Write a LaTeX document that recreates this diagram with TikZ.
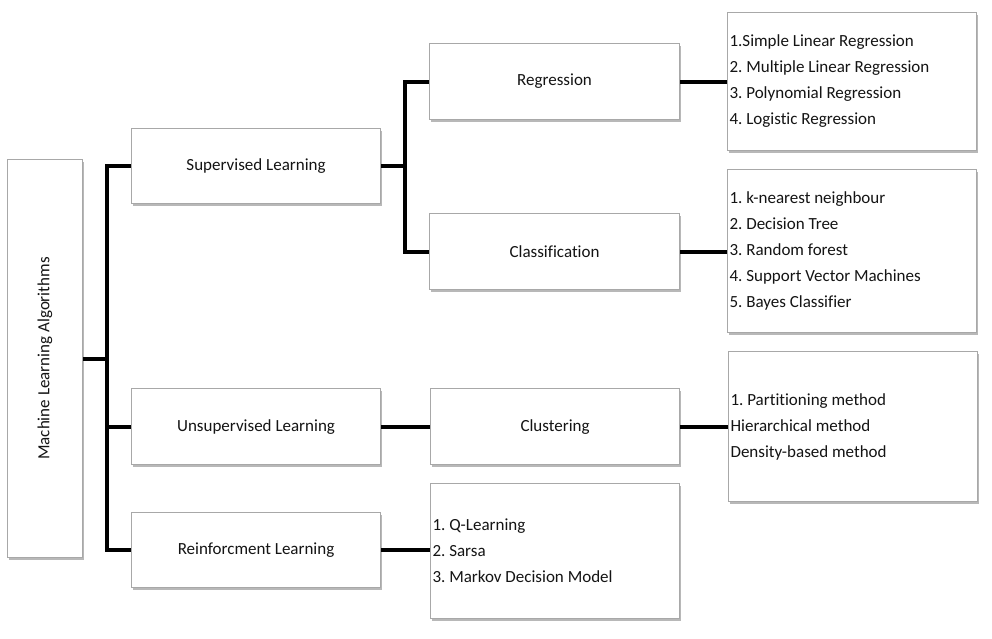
\documentclass[tikz,border=0pt]{standalone}
\usepackage{fontspec}
\setmainfont{Carlito}[Ligatures=NoCommon]
\frenchspacing
\usetikzlibrary{shadows}
\definecolor{boxline}{HTML}{A8A8A8}
\definecolor{txt}{HTML}{141414}
\tikzset{
  box/.style={draw=boxline, line width=1.1pt, fill=white, rectangle, inner sep=0pt,
    anchor=north west, text=txt, font=\fontsize{17}{26}\selectfont,
    drop shadow={shadow xshift=1.2pt, shadow yshift=-2pt, fill=black, opacity=0.28}},
  listbox/.style={box, align=flush left, inner xsep=2pt},
  conn/.style={line width=4pt, black, line join=miter},
}
\begin{document}
\begin{tikzpicture}[x=1pt,y=-1pt]
\useasboundingbox (0,0) rectangle (992,638);
% boxes
\node[box, minimum width=75pt, minimum height=398pt] (root) at (7,159) {};
\node[rotate=90, text=txt, font=\fontsize{17}{20}\selectfont] (roottxt) at (root.center) {Machine Learning Algorithms};
\node[box, minimum width=249pt, minimum height=75pt] (sup) at (131,128) {Supervised Learning};
\node[box, minimum width=249pt, minimum height=76pt] (unsup) at (131,388) {Unsupervised Learning};
\node[box, minimum width=249pt, minimum height=75pt] (rl) at (131,512) {Reinforcment Learning};
\node[box, minimum width=250pt, minimum height=76pt] (reg) at (429,43) {Regression};
\node[box, minimum width=250pt, minimum height=76pt] (cls) at (429,213) {Classification};
\node[box, minimum width=249pt, minimum height=76pt] (clu) at (430,388) {Clustering};
\node[listbox, minimum width=249pt, minimum height=138pt, text width=245pt] (reglist) at (727,12)
  {1.Simple Linear Regression\\2. Multiple Linear Regression\\3. Polynomial Regression\\4. Logistic Regression};
\node[listbox, minimum width=249pt, minimum height=163pt, text width=245pt] (clslist) at (727,169)
  {1. k-nearest neighbour\\2. Decision Tree\\3. Random forest\\4. Support Vector Machines\\5. Bayes Classifier};
\node[listbox, minimum width=249pt, minimum height=150pt, text width=245pt] (clulist) at (728,351)
  {1. Partitioning method\\Hierarchical method\\Density-based method};
\node[listbox, minimum width=249pt, minimum height=135pt, text width=245pt] (rllist) at (430,483)
  {1. Q-Learning\\2. Sarsa\\3. Markov Decision Model};
% trunks
\coordinate (trunkA) at (107,0);
\coordinate (trunkB) at (405,0);
% connectors
\draw[conn] (root.east) -- (root.east -| trunkA);
\draw[conn] (sup.west) -- (sup.west -| trunkA) -- (rl.west -| trunkA) -- (rl.west);
\draw[conn] (unsup.west) -- (unsup.west -| trunkA);
\draw[conn] (sup.east) -- (sup.east -| trunkB);
\draw[conn] (reg.west) -- (reg.west -| trunkB) -- (cls.west -| trunkB) -- (cls.west);
\draw[conn] (reg.east) -- (reg.east -| reglist.west);
\draw[conn] (cls.east) -- (cls.east -| clslist.west);
\draw[conn] (unsup.east) -- (clu.west);
\draw[conn] (clu.east) -- (clu.east -| clulist.west);
\draw[conn] (rl.east) -- (rl.east -| rllist.west);
\end{tikzpicture}
\end{document}
